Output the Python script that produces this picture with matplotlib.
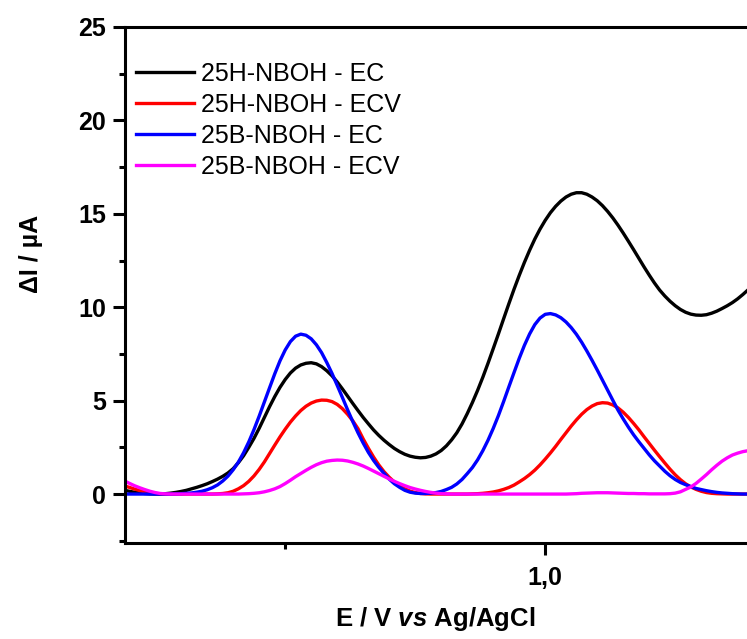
import matplotlib
matplotlib.use("Agg")
import matplotlib.pyplot as plt
from matplotlib.ticker import MultipleLocator, FuncFormatter

plt.rcParams['font.family'] = ['Liberation Sans', 'DejaVu Sans']
plt.rcParams['mathtext.fontset'] = 'custom'
plt.rcParams['mathtext.bfit'] = 'Liberation Sans:italic:bold'
plt.rcParams['mathtext.bf'] = 'Liberation Sans:bold'
plt.rcParams['mathtext.rm'] = 'Liberation Sans:bold'

# potential (V vs Ag/AgCl)
E = [0.590, 0.595, 0.600, 0.605, 0.610, 0.615, 0.620, 0.625, 0.630, 0.635,
     0.640, 0.645, 0.650, 0.655, 0.660, 0.665, 0.670, 0.675, 0.680, 0.685,
     0.690, 0.695, 0.700, 0.705, 0.710, 0.715, 0.720, 0.725, 0.730, 0.735,
     0.740, 0.745, 0.750, 0.755, 0.760, 0.765, 0.770, 0.775, 0.780, 0.785,
     0.790, 0.795, 0.800, 0.805, 0.810, 0.815, 0.820, 0.825, 0.830, 0.835,
     0.840, 0.845, 0.850, 0.855, 0.860, 0.865, 0.870, 0.875, 0.880, 0.885,
     0.890, 0.895, 0.900, 0.905, 0.910, 0.915, 0.920, 0.925, 0.930, 0.935,
     0.940, 0.945, 0.950, 0.955, 0.960, 0.965, 0.970, 0.975, 0.980, 0.985,
     0.990, 0.995, 1.000, 1.005, 1.010, 1.015, 1.020, 1.025, 1.030, 1.035,
     1.040, 1.045, 1.050, 1.055, 1.060, 1.065, 1.070, 1.075, 1.080, 1.085,
     1.090, 1.095, 1.100, 1.105, 1.110, 1.115, 1.120, 1.125, 1.130, 1.135,
     1.140, 1.145, 1.150, 1.155, 1.160, 1.165, 1.170, 1.175, 1.180, 1.185,
     1.190, 1.195, 1.200]

# baseline-corrected currents (uA)
h_ec = [0.28, 0.21, 0.15, 0.10, 0.06, 0.03, 0.01, 0.00, 0.00, 0.02,
        0.05, 0.09, 0.14, 0.20, 0.28, 0.36, 0.45, 0.55, 0.67, 0.80,
        0.95, 1.13, 1.36, 1.68, 2.05, 2.50, 2.98, 3.52, 4.10, 4.68,
        5.22, 5.71, 6.13, 6.48, 6.74, 6.91, 7.00, 7.03, 6.97, 6.82,
        6.60, 6.33, 6.00, 5.63, 5.24, 4.85, 4.47, 4.10, 3.76, 3.43,
        3.14, 2.88, 2.65, 2.44, 2.27, 2.13, 2.03, 1.97, 1.94, 1.96,
        2.03, 2.15, 2.33, 2.58, 2.90, 3.28, 3.75, 4.30, 4.90, 5.55,
        6.25, 7.00, 7.78, 8.57, 9.38, 10.18, 10.96, 11.70, 12.40, 13.05,
        13.65, 14.18, 14.65, 15.06, 15.40, 15.68, 15.90, 16.05, 16.13, 16.13,
        16.05, 15.90, 15.70, 15.44, 15.13, 14.78, 14.39, 13.97, 13.53, 13.08,
        12.62, 12.16, 11.72, 11.30, 10.92, 10.60, 10.32, 10.08, 9.88, 9.73,
        9.63, 9.58, 9.57, 9.60, 9.68, 9.79, 9.93, 10.08, 10.25, 10.45,
        10.68, 10.93, 11.20]
h_ecv = [0.55, 0.45, 0.36, 0.27, 0.19, 0.12, 0.07, 0.03, 0.01, 0.00,
         0.00, 0.00, 0.00, 0.00, 0.00, 0.00, 0.00, 0.00, 0.00, 0.01,
         0.03, 0.07, 0.15, 0.28, 0.45, 0.68, 0.97, 1.32, 1.72, 2.17,
         2.62, 3.06, 3.47, 3.85, 4.18, 4.47, 4.70, 4.87, 4.98, 5.03,
         5.02, 4.95, 4.80, 4.57, 4.27, 3.92, 3.50, 2.95, 2.45, 1.98,
         1.56, 1.20, 0.90, 0.64, 0.44, 0.28, 0.16, 0.08, 0.03, 0.01,
         0.00, 0.00, 0.00, 0.00, 0.00, 0.00, 0.00, 0.00, 0.01, 0.02,
         0.04, 0.07, 0.11, 0.17, 0.25, 0.35, 0.48, 0.65, 0.83, 1.04,
         1.28, 1.56, 1.87, 2.20, 2.55, 2.92, 3.28, 3.64, 3.97, 4.27,
         4.52, 4.71, 4.84, 4.89, 4.87, 4.77, 4.61, 4.38, 4.10, 3.78,
         3.44, 3.07, 2.71, 2.35, 2.00, 1.66, 1.33, 1.03, 0.77, 0.55,
         0.38, 0.25, 0.15, 0.08, 0.04, 0.02, 0.01, 0.00, 0.00, 0.00,
         0.00, 0.00, 0.00]
b_ec = [0.00, 0.00, 0.00, 0.00, 0.00, 0.00, 0.00, 0.00, 0.00, 0.00,
        0.00, 0.01, 0.02, 0.04, 0.06, 0.10, 0.15, 0.23, 0.34, 0.49,
        0.70, 0.96, 1.30, 1.71, 2.21, 2.79, 3.45, 4.17, 4.93, 5.69,
        6.44, 7.13, 7.71, 8.16, 8.45, 8.56, 8.50, 8.31, 7.99, 7.57,
        7.04, 6.46, 5.82, 5.17, 4.51, 3.88, 3.28, 2.73, 2.23, 1.80,
        1.43, 1.11, 0.80, 0.55, 0.36, 0.20, 0.10, 0.05, 0.03, 0.03,
        0.05, 0.08, 0.14, 0.24, 0.36, 0.54, 0.78, 1.09, 1.42, 1.83,
        2.32, 2.88, 3.51, 4.20, 4.95, 5.73, 6.50, 7.26, 7.96, 8.57,
        9.07, 9.42, 9.62, 9.66, 9.59, 9.44, 9.21, 8.91, 8.55, 8.13,
        7.66, 7.16, 6.64, 6.10, 5.56, 5.02, 4.49, 4.02, 3.58, 3.17,
        2.80, 2.45, 2.10, 1.78, 1.50, 1.22, 0.98, 0.78, 0.62, 0.50,
        0.40, 0.30, 0.24, 0.18, 0.13, 0.09, 0.06, 0.04, 0.02, 0.01,
        0.00, 0.00, 0.00]
b_ecv = [0.85, 0.72, 0.58, 0.45, 0.34, 0.24, 0.15, 0.08, 0.03, 0.01,
         0.00, 0.00, 0.00, 0.00, 0.00, 0.00, 0.00, 0.00, 0.00, 0.00,
         0.00, 0.00, 0.00, 0.00, 0.01, 0.02, 0.04, 0.07, 0.12, 0.19,
         0.28, 0.40, 0.56, 0.74, 0.93, 1.10, 1.27, 1.43, 1.57, 1.68,
         1.76, 1.80, 1.82, 1.81, 1.77, 1.70, 1.61, 1.50, 1.37, 1.23,
         1.09, 0.95, 0.81, 0.68, 0.56, 0.45, 0.35, 0.27, 0.20, 0.14,
         0.09, 0.05, 0.02, 0.01, 0.00, 0.00, 0.00, 0.00, 0.00, 0.00,
         0.00, 0.00, 0.00, 0.00, 0.00, 0.00, 0.00, 0.00, 0.00, 0.00,
         0.00, 0.00, 0.00, 0.00, 0.00, 0.00, 0.00, 0.01, 0.02, 0.04,
         0.05, 0.06, 0.07, 0.07, 0.07, 0.06, 0.05, 0.04, 0.03, 0.03,
         0.02, 0.02, 0.01, 0.01, 0.01, 0.01, 0.02, 0.05, 0.12, 0.25,
         0.38, 0.57, 0.80, 1.04, 1.30, 1.54, 1.76, 1.94, 2.09, 2.19,
         2.27, 2.32, 2.35]

labels = ["25H-NBOH - EC", "25H-NBOH - ECV", "25B-NBOH - EC", "25B-NBOH - ECV"]
colors = ["#000000", "#FF0000", "#0000FF", "#FF00FF"]

fig = plt.figure(figsize=(7.47, 6.39), dpi=100)
ax = fig.add_axes([125 / 747, 96 / 639, 622 / 747, 516 / 639])

for y, lab, c in zip([h_ec, h_ecv, b_ec, b_ecv], labels, colors):
    ax.plot(E, y, color=c, lw=2.4, label=lab, solid_joinstyle="round")

ax.set_xlim(0.596, 1.194)
ax.set_ylim(-2.62, 25)

ax.xaxis.set_major_locator(MultipleLocator(0.5))
ax.xaxis.set_minor_locator(MultipleLocator(0.25))
ax.yaxis.set_major_locator(MultipleLocator(5))
ax.yaxis.set_minor_locator(MultipleLocator(2.5))
ax.xaxis.set_major_formatter(FuncFormatter(lambda v, p: f"{v:.1f}".replace(".", ",")))

for s in ["left", "bottom", "top"]:
    ax.spines[s].set_linewidth(2.2)
ax.spines["right"].set_visible(False)

ax.tick_params(which="major", direction="out", length=8.5, width=2.2,
               labelsize=18, pad=5)
ax.tick_params(which="minor", direction="out", length=4.5, width=2.2)
ax.tick_params(axis="x", which="major", pad=8)
for t in ax.get_xticklabels() + ax.get_yticklabels():
    t.set_fontweight("bold")

ax.set_ylabel("ΔI / µA", fontsize=18, fontweight="bold")
ax.yaxis.set_label_coords(-0.132, 0.56)
ax.set_xlabel(r"E / V $\mathbfit{vs}$ Ag/AgCl", fontsize=18.5, fontweight="bold")
ax.xaxis.set_label_coords(0.498, -0.121)

ax.legend(loc="upper left", bbox_to_anchor=(0.018, 0.933), frameon=False,
          fontsize=18, handlelength=2.3, handletextpad=0.3, labelspacing=0.28,
          borderpad=0, borderaxespad=0)

fig.savefig("out.png", dpi=100)
